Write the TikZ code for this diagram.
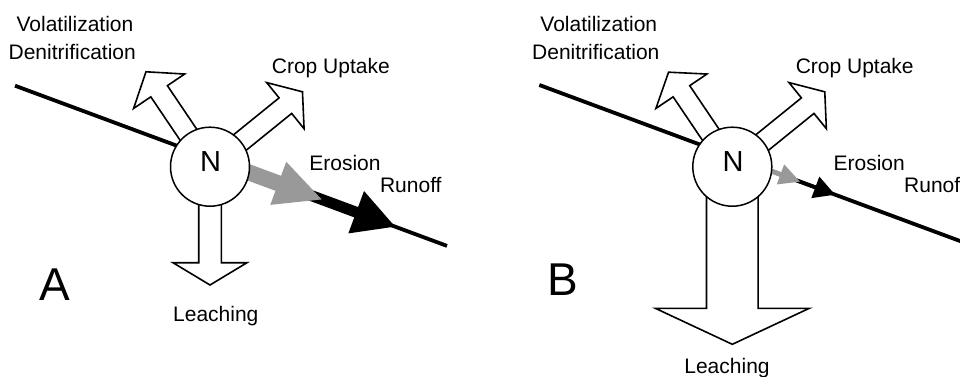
\documentclass[tikz,border=0pt]{standalone}
\usepackage{fontspec}
\setmainfont{Liberation Sans}
\usetikzlibrary{calc}
\definecolor{arrgray}{RGB}{153,153,153}
\begin{document}
\begin{tikzpicture}[x=1pt,y=-1pt,
  lbl/.style={font=\fontsize{21}{25}\selectfont, inner sep=0pt, anchor=base},
  nlbl/.style={font=\fontsize{29}{34}\selectfont, inner sep=0pt, anchor=base},
  big/.style={font=\fontsize{46}{52}\selectfont, inner sep=0pt, anchor=base},
  nut/.style={circle, draw, line width=1.5pt, fill=white, minimum size=79pt, inner sep=0pt},
  soil/.style={line width=3.8pt},
  hollow/.style={draw, fill=white, line width=1.6pt, line join=miter},
  pics/blockarrow/.style args={#1/#2/#3/#4}{code={%
    \path[pic actions] (0,-#1) -- (#2,-#1) -- (#2,-#3) -- (#4,0) -- (#2,#3) -- (#2,#1) -- (0,#1) -- cycle;}}
]
\useasboundingbox (0,0) rectangle (960,377);
\clip (0,0) rectangle (960,377);

% ---------------- Panel A ----------------
\coordinate (cA) at (210,166.7);
\coordinate (LA0) at (15,85.7);
\coordinate (LA1) at (447,245.9);
\draw[soil] (LA0) -- (LA1);
\pic[fill=black, rotate=-20.35] at ($(LA0)!300pt!(LA1)$) {blockarrow={5.5/63.9/22.6/105.3}};
\pic[fill=arrgray, rotate=-20.35] at ($(LA0)!245pt!(LA1)$) {blockarrow={8/35.8/23/82.1}};
\pic[hollow, rotate=124] at (cA) {blockarrow={10/91/30.8/114.5}};
\pic[hollow, rotate=39] at (cA) {blockarrow={10/97/29.7/119}};
\pic[hollow, rotate=-90] at (cA) {blockarrow={11.3/96/37/118.3}};
\node[nut] (NA) at (cA) {};
\node[nlbl] (NAt) at (210.7,171) {N};

\node[lbl] (volA) at (75,31.7) {Volatilization};
\node[lbl] (denA) at (72.2,60) {Denitrification};
\node[lbl] (cropA) at (330.8,74) {Crop Uptake};
\node[lbl] (eroA) at (345,170) {Erosion};
\node[lbl] (runA) at (410.8,192.7) {Runoff};
\node[lbl] (leaA) at (215.8,321.7) {Leaching};
\node[big] (labA) at (54.7,300) {A};

% ---------------- Panel B ----------------
\coordinate (cB) at (732.3,166.7);
\coordinate (LB0) at (539.3,85);
\coordinate (LB1) at (989.4,251.9);
\draw[soil] (LB0) -- (LB1);
\pic[fill=black, rotate=-20.35] at ($(LB0)!270pt!(LB1)$) {blockarrow={1.9/24.4/11.5/45.4}};
\pic[fill=arrgray, rotate=-20.35] at ($(LB0)!245pt!(LB1)$) {blockarrow={2.5/12.2/10.7/33}};
\pic[hollow, rotate=124] at (cB) {blockarrow={10/91/30.8/114}};
\pic[hollow, rotate=39] at (cB) {blockarrow={10/97/29.7/119}};
\pic[hollow, rotate=-90] at (cB) {blockarrow={25.8/141.6/77/177.6}};
\node[nut] (NB) at (cB) {};
\node[nlbl] (NBt) at (733,171) {N};

\node[lbl] (volB) at (598.8,31.7) {Volatilization};
\node[lbl] (denB) at (595.8,60) {Denitrification};
\node[lbl] (cropB) at (854.7,74) {Crop Uptake};
\node[lbl] (eroB) at (869.2,170) {Erosion};
\node[lbl, anchor=base west] (runB) at (904,192.7) {Runoff};
\node[lbl] (leaB) at (727,373.3) {Leaching};
\node[big] (labB) at (562.8,295) {B};
\end{tikzpicture}
\end{document}
